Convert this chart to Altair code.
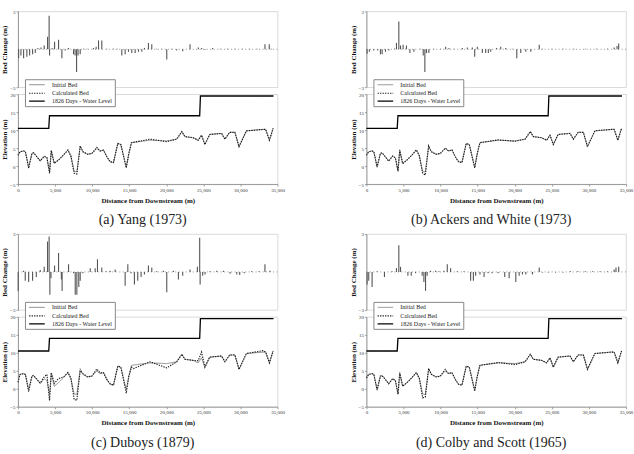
import altair as alt
import pandas as pd

FONT = "Liberation Serif"
SERIES = ["Initial Bed", "Calculated Bed", "1826 Days - Water Level"]
X_TICKS = [0, 5000, 10000, 15000, 20000, 25000, 30000, 35000]
BED_TICKS = [-3, -2, -1, 0, 1, 2, 3]
ELEV_TICKS = [-5, 0, 5, 10, 15, 20]

# Bed profile nodes (distance from downstream, m)
X_NODES = [0, 300, 760, 1000, 1440, 1880, 2100, 2550, 3000, 3540, 3900, 4260, 4490, 4890,
           5470, 6150, 6730, 7130, 7580, 7940, 8390, 8750, 9380, 9960, 10630, 11080, 11530,
           11980, 12430, 12880, 13460, 13870, 14600, 14950, 15300, 15570, 17800, 20050,
           21400, 22100, 22500, 23600, 24300, 24750, 25200, 25850, 27450, 27900, 28550,
           29250, 29800, 30800, 33050, 33400, 33900, 34400]
INITIAL = [3.1, 4.0, 4.2, 4.0, -0.2, 3.5, 3.7, 2.6, 1.4, 2.8, 2.3, -1.5, 4.3, 0.7, 1.7, 3.1,
           4.5, 2.9, -1.5, -1.6, 5.6, 4.0, 3.3, 3.5, 4.9, 4.2, 4.5, 2.6, 1.2, 1.0, 6.3, 6.0,
           -0.3, 3.5, 6.5, 6.6, 7.2, 7.0, 7.5, 9.6, 8.2, 7.9, 7.2, 8.6, 6.0, 8.8, 9.1, 7.5,
           9.4, 9.4, 5.4, 9.8, 10.2, 10.2, 7.2, 10.5]
CALC_A = [3.0, 4.0, 4.2, 4.0, -0.6, 3.5, 3.7, 2.6, 1.5, 2.7, 2.4, -2.0, 4.3, 0.8, 1.7, 3.1,
          4.5, 2.8, -2.0, -2.2, 5.6, 4.0, 3.3, 3.5, 5.2, 4.2, 4.4, 2.6, 1.2, 1.0, 6.3, 6.0,
          -0.5, 3.5, 6.5, 6.6, 7.5, 6.8, 7.5, 9.6, 8.2, 7.9, 7.2, 8.6, 6.0, 8.8, 9.1, 7.5,
          9.4, 9.4, 5.4, 9.8, 10.2, 10.2, 7.2, 10.5]
CALC_B = [3.0, 4.0, 4.2, 4.0, -0.3, 3.5, 3.7, 2.6, 1.4, 2.8, 2.3, -1.3, 4.5, 0.7, 1.7, 3.1,
          4.5, 2.9, -2.0, -2.5, 5.6, 4.0, 3.3, 3.5, 5.0, 4.2, 4.5, 2.6, 1.2, 1.0, 6.3, 6.0,
          -0.5, 3.5, 6.5, 6.6, 7.3, 6.9, 7.5, 9.6, 8.2, 7.9, 7.2, 8.6, 6.0, 8.8, 9.1, 7.5,
          9.4, 9.4, 5.4, 9.8, 10.2, 10.2, 7.2, 10.5]
CALC_C = [1.8, 4.0, 4.2, 4.0, -0.8, 3.5, 3.7, 2.6, 1.6, 3.3, 4.0, -3.3, 4.5, 1.5, 2.8, 3.3,
          4.5, 3.0, -3.0, -3.2, 5.0, 4.2, 3.3, 3.5, 5.5, 4.4, 4.5, 2.6, 1.4, 1.0, 6.3, 6.0,
          -1.2, 3.5, 6.0, 5.6, 7.5, 5.8, 7.5, 9.6, 8.2, 7.9, 7.8, 10.2, 6.0, 8.8, 9.1, 7.5,
          9.4, 9.4, 5.4, 9.8, 10.6, 10.2, 7.2, 10.5]
CALC_D = [3.0, 4.0, 4.2, 4.0, -0.4, 3.5, 3.7, 2.6, 1.4, 2.8, 2.3, -1.5, 4.5, 0.7, 1.7, 3.1,
          4.5, 2.9, -2.5, -2.3, 5.6, 4.0, 3.3, 3.5, 5.4, 4.2, 4.5, 2.6, 1.2, 1.0, 6.3, 6.0,
          -0.7, 3.5, 6.5, 6.6, 7.3, 6.7, 7.5, 9.6, 8.2, 7.9, 7.2, 8.6, 6.0, 8.8, 9.1, 7.5,
          9.4, 9.4, 5.4, 9.8, 10.2, 10.2, 7.2, 10.5]

# Water level after 1826 days
WL_X = [0, 4150, 4250, 24500, 24600, 34450]
WL_Y = [10.5, 10.5, 14.0, 14.0, 19.5, 19.5]

# Bed change (m) per section
BED_A_X = [90, 400, 760, 1200, 1570, 1970, 2330, 2690, 3100, 3540, 3990, 4200, 4260, 4600, 4935,
           5470, 5920, 6370, 6820, 7490, 7700, 7900, 8100, 8390, 8840, 9290, 10180, 10540, 10860,
           11300, 11980, 12880, 13400, 14000, 14450, 14900, 15350, 15800, 16250, 16700, 17050,
           17590, 18040, 18710, 19390, 20060, 20730, 21400, 22210, 23200, 24320, 24770, 25220,
           26250, 27250, 28250, 29250, 30250, 31250, 32250, 33300, 33880, 34200]
BED_A_V = [-0.7, -0.5, -0.7, -0.6, -0.5, -0.4, -0.3, 0.1, 0.15, 0.3, 1.0, 2.65, -0.5, 0.1, 0.6,
           0.75, -0.7, -0.1, 0.1, -0.4, -0.5, -1.8, -0.5, -0.4, 0.05, 0.05, 0.1, 0.2, 0.7,
           0.7, 0.05, 0.05, 0.05, -0.5, -0.4, -0.2, -0.3, -0.3, -0.2, -0.2, 0.1,
           0.5, 0.4, 0.05, 0.05, -0.8, 0.05, -0.1, -0.15, 0.4, 0.15, 0.1, -0.05,
           0.1, 0.05, 0.05, 0.05, 0.05, 0.05, 0.05, 0.4, 0.4, 0.05]
BED_B_X = [90, 400, 990, 1530, 1890, 2120, 2570, 3020, 3780, 4050, 4370, 4600, 4950, 5400, 5860,
           6400, 7300, 7660, 7880, 8100, 8420, 9100, 10000, 10680, 11130, 11800, 12930, 13600,
           14280, 14600, 14950, 15630, 16080, 16440, 16760, 17570, 18110, 18780, 19680, 20270,
           20810, 21490, 22160, 23300, 23750, 25000, 26500, 28000, 29500, 31000, 32500, 33400,
           33790, 34010]
BED_B_V = [-0.35, -0.2, -0.1, -0.1, -0.4, -0.4, -0.2, -0.1, 0.05, 0.5, 2.2, 0.3, 0.35, 0.3, -0.3,
           -0.2, 0.05, -0.5, -1.8, -0.3, -0.3, 0.05, 0.05, 0.2, 0.1, 0.05, 0.1, 0.15,
           0.15, -0.6, 0.2, -0.3, -0.3, -0.3, -0.2, 0.1, 0.2, 0.1, 0.05, -0.7,
           -0.3, -0.2, -0.2, 0.35, 0.05, 0.05, 0.05, 0.05, 0.05, 0.05, 0.05, 0.15,
           0.25, 0.45]
BED_C_X = [30, 760, 980, 1440, 1970, 2470, 3000, 3540, 3990, 4200, 4300, 4450, 4935, 5470, 5850,
           5950, 6820, 7490, 7720, 7940, 8200, 8390, 8750, 9740, 10410, 10720, 11300, 11890,
           12430, 13100, 14450, 14810, 15250, 15700, 16150, 16600, 17050, 17590, 18040, 18710,
           19610, 20060, 20960, 21630, 22210, 23200, 24190, 24500, 24560, 24900, 25220, 25890,
           26800, 27700, 28600, 29500, 29900, 30500, 31500, 32500, 33300, 33970]
BED_C_V = [-1.5, 0.1, -0.7, -0.8, -0.7, -0.4, 0.15, 0.4, 2.4, 2.8, -1.8, -0.5, 0.5, 1.5, -0.6,
           -1.5, 0.6, -0.1, -1.8, -1.8, -1.2, -0.7, -0.1, 0.3, 0.3, 1.0, 0.35, 0.05,
           0.1, 0.2, -1.1, 0.6, -0.1, -1.0, -0.7, -0.4, -0.2, 0.5, 0.35, 0.05,
           0.1, -1.6, 0.1, -0.6, -0.3, 0.2, 0.4, 2.7, -1.0, -0.3, -0.2, 0.05,
           0.1, 0.1, -0.15, -0.2, -0.25, -0.1, 0.05, 0.05, 0.6, 0.1]
BED_D_X = [90, 315, 765, 1440, 2430, 3460, 4050, 4370, 4600, 5590, 6040, 6620, 7520, 7750, 7970,
           8190, 8650, 9320, 9770, 10450, 10900, 11350, 12250, 13150, 14050, 14420, 14730,
           15310, 15860, 16400, 16940, 17750, 18650, 19240, 20140, 20590, 21040, 21490, 22390,
           23300, 23750, 24500, 25500, 26500, 27500, 28500, 29500, 30500, 31500, 32500, 33400,
           33650, 34010]
BED_D_V = [-1.0, -0.7, -1.2, 0.05, -0.4, 0.05, 0.3, 2.1, 0.4, -0.3, -0.3, -0.1, -0.3, -0.8, -1.5,
           -0.3, 0.1, 0.1, 0.05, 0.1, 0.6, 0.3, 0.05, 0.05, -0.7, -0.7, -0.3,
           -0.2, -0.4, -0.1, -0.1, -0.1, -0.4, -0.5, -0.8, -0.3, -0.2, -0.2, -0.2,
           0.35, -0.05, -0.05, -0.05, -0.05, 0.05, 0.05, 0.05, 0.05, 0.05, 0.05, 0.2,
           0.35, 0.4]

CAPTIONS = ["(a) Yang (1973)", "(b) Ackers and White (1973)",
            "(c) Duboys (1879)", "(d) Colby and Scott (1965)"]

W = 260
H_BED = 76
H_EL = 90
xscale = alt.Scale(domain=[0, 35000], nice=False, zero=False)
legend = alt.Legend(orient="none", legendX=7, legendY=-15, title=None, fillColor="white",
                    strokeColor="#888", padding=2, labelFont=FONT, labelFontSize=6,
                    labelColor="#222", symbolType="M-2.6,0H2.6", symbolSize=36, rowPadding=1,
                    symbolOffset=6, labelOffset=11, labelLimit=200)


def panel(caption, bx, bv, calc):
    bdf = pd.DataFrame({"x": bx, "v": bv})
    zdf = pd.DataFrame({"z": [0]})
    yb = alt.Y("v:Q", scale=alt.Scale(domain=[-3, 3], nice=False),
               axis=alt.Axis(values=BED_TICKS, title="Bed Change (m)", minExtent=8, maxExtent=8))
    bars = alt.Chart(bdf).mark_rule(color="#555", strokeWidth=1.1).encode(
        x=alt.X("x:Q", scale=xscale, axis=None), y=yb, y2=alt.datum(0))
    zero = alt.Chart(zdf).mark_rule(color="#777", strokeDash=[1, 2.5], strokeWidth=0.8).encode(
        y=alt.Y("z:Q"))
    bed = alt.layer(zero, bars).properties(width=W, height=H_BED)

    rows = []
    for x, y in zip(X_NODES, INITIAL):
        rows.append({"x": x, "y": y, "s": SERIES[0]})
    for x, y in zip(X_NODES, calc):
        rows.append({"x": x, "y": y, "s": SERIES[1]})
    for x, y in zip(WL_X, WL_Y):
        rows.append({"x": x, "y": y, "s": SERIES[2]})
    edf = pd.DataFrame(rows)
    base = alt.Chart(edf).mark_line().encode(
        x=alt.X("x:Q", scale=xscale,
                axis=alt.Axis(values=X_TICKS, format=",.0f", title="Distance from Downstream (m)",
                              labelFlush=False, titlePadding=4)),
        y=alt.Y("y:Q", scale=alt.Scale(domain=[-5, 20], nice=False),
                axis=alt.Axis(values=ELEV_TICKS, title="Elevation (m)", minExtent=8, maxExtent=8)),
        color=alt.Color("s:N", scale=alt.Scale(domain=SERIES, range=["#8a8a8a", "#1a1a1a", "#000000"]),
                        legend=legend),
        strokeDash=alt.StrokeDash("s:N", scale=alt.Scale(domain=SERIES, range=[[1, 0], [1.3, 1.2], [1, 0]]),
                                  legend=legend),
        strokeWidth=alt.StrokeWidth("s:N", scale=alt.Scale(domain=SERIES, range=[1.0, 1.3, 2.6]),
                                    legend=legend),
    )
    elev = alt.layer(
        base.transform_filter(alt.datum.s == SERIES[2]),
        base.transform_filter(alt.datum.s == SERIES[0]),
        base.transform_filter(alt.datum.s == SERIES[1]),
    ).properties(width=W, height=H_EL)

    return alt.vconcat(bed, elev, spacing=7, bounds="flush").properties(
        title=alt.TitleParams(caption, orient="bottom", anchor="middle", font=FONT, fontSize=14,
                              fontWeight="normal", color="#222", offset=10)
    ).resolve_scale(color="independent", strokeDash="independent", strokeWidth="independent")


RES = dict(color="independent", strokeDash="independent", strokeWidth="independent")
pa = panel(CAPTIONS[0], BED_A_X, BED_A_V, CALC_A)
pb = panel(CAPTIONS[1], BED_B_X, BED_B_V, CALC_B)
pc = panel(CAPTIONS[2], BED_C_X, BED_C_V, CALC_C)
pd_ = panel(CAPTIONS[3], BED_D_X, BED_D_V, CALC_D)

top = alt.hconcat(pa, pb, spacing=63).resolve_scale(**RES)
bottom = alt.hconcat(pc, pd_, spacing=63).resolve_scale(**RES)

chart = alt.vconcat(top, bottom, spacing=3).resolve_scale(**RES).properties(
    padding={"left": 0, "top": 8, "right": 0, "bottom": 0}, background="white"
).configure_view(stroke="#d0d0d0", strokeWidth=0.8).configure_axis(
    labelFont=FONT, titleFont=FONT, labelFontSize=5, titleFontSize=7,
    titleFontWeight="bold", grid=False, domainColor="#888", tickColor="#888",
    tickSize=2, labelPadding=1, labelColor="#333", titleColor="#111", titlePadding=2,
    domainWidth=0.8, tickWidth=0.8,
)

chart.save("out.html", embed_options={"renderer": "svg", "actions": False})
